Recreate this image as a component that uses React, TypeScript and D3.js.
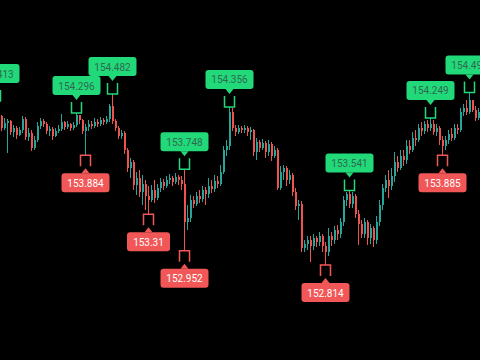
import React, { useMemo } from "react";
import * as d3 from "d3";

const WIDTH = 480;
const HEIGHT = 360;

// Opening price of the first bar; every later bar opens at the previous close.
const firstOpen = 154.306;

const closes = [
  154.326, 154.384, 154.267, 154.150, 154.199, 154.218, 154.111, 154.150, 154.082, 154.131,
  154.238, 154.062, 154.101, 153.955, 154.033, 154.170, 154.218, 154.189, 154.121, 154.140,
  154.072, 154.121, 154.140, 154.209, 154.160, 154.189, 154.150, 154.180, 154.277, 154.228,
  154.121, 154.160, 154.189, 154.170, 154.209, 154.189, 154.228, 154.209, 154.238, 154.365,
  154.218, 154.150, 154.072, 154.101, 153.936, 153.760, 153.819, 153.594, 153.662, 153.526,
  153.604, 153.487, 153.448, 153.545, 153.467, 153.565, 153.623, 153.584, 153.643, 153.662,
  153.623, 153.672, 153.643, 153.604, 153.233, 153.272, 153.448, 153.409, 153.487, 153.458,
  153.545, 153.506, 153.584, 153.555, 153.633, 153.604, 153.721, 153.936, 153.975, 154.306,
  154.150, 154.111, 154.150, 154.131, 154.150, 154.111, 154.131, 153.916, 154.014, 153.955,
  154.004, 153.916, 153.994, 153.877, 153.936, 153.565, 153.721, 153.760, 153.643, 153.692,
  153.526, 153.389, 153.409, 152.979, 153.018, 153.058, 152.999, 153.077, 153.038, 153.096,
  152.999, 152.940, 153.096, 153.058, 153.155, 153.116, 153.233, 153.448, 153.506, 153.409,
  153.487, 153.311, 153.214, 153.116, 153.233, 153.077, 153.174, 153.058, 153.233, 153.399,
  153.565, 153.643, 153.584, 153.682, 153.819, 153.760, 153.877, 153.838, 153.975, 153.936,
  154.053, 154.033, 154.150, 154.121, 154.189, 154.150, 154.189, 154.111, 154.150, 154.033,
  153.975, 154.033, 154.092, 154.053, 154.150, 154.131, 154.306, 154.345, 154.306, 154.423,
  154.326, 154.248, 154.306, 154.267,
];

const highs = [
  154.375, 154.413, 154.394, 154.277, 154.248, 154.238, 154.228, 154.180, 154.170, 154.160,
  154.267, 154.257, 154.150, 154.131, 154.072, 154.209, 154.248, 154.238, 154.209, 154.170,
  154.160, 154.150, 154.180, 154.287, 154.218, 154.218, 154.199, 154.209, 154.296, 154.282,
  154.238, 154.189, 154.228, 154.218, 154.248, 154.238, 154.257, 154.248, 154.267, 154.384,
  154.482, 154.238, 154.170, 154.131, 154.121, 153.955, 153.858, 153.838, 153.721, 153.741,
  153.692, 153.643, 153.584, 153.594, 153.643, 153.604, 153.662, 153.653, 153.682, 153.701,
  153.682, 153.711, 153.692, 153.682, 153.748, 153.399, 153.497, 153.487, 153.526, 153.545,
  153.584, 153.574, 153.662, 153.643, 153.692, 153.682, 153.789, 153.975, 154.033, 154.356,
  154.345, 154.180, 154.180, 154.170, 154.180, 154.170, 154.160, 154.140, 154.053, 154.033,
  154.043, 154.023, 154.033, 154.014, 153.975, 153.955, 153.780, 153.789, 153.780, 153.741,
  153.711, 153.565, 153.448, 153.438, 153.058, 153.096, 153.096, 153.116, 153.096, 153.135,
  153.116, 153.038, 153.174, 153.135, 153.194, 153.204, 153.272, 153.487, 153.530, 153.541,
  153.526, 153.506, 153.350, 153.253, 153.272, 153.253, 153.214, 153.194, 153.292, 153.448,
  153.604, 153.692, 153.741, 153.760, 153.916, 153.877, 153.936, 153.936, 154.033, 154.033,
  154.111, 154.131, 154.189, 154.209, 154.218, 154.228, 154.249, 154.228, 154.189, 154.170,
  154.072, 154.072, 154.131, 154.150, 154.189, 154.189, 154.345, 154.384, 154.423, 154.496,
  154.404, 154.365, 154.345, 154.326,
];

const lows = [
  154.277, 154.306, 154.248, 154.121, 154.131, 153.907, 154.082, 154.062, 154.043, 154.072,
  154.101, 154.033, 154.023, 153.926, 153.936, 154.014, 154.140, 154.160, 154.092, 154.072,
  154.033, 154.062, 154.101, 154.121, 154.131, 154.140, 154.121, 154.131, 154.160, 154.189,
  154.092, 153.884, 154.121, 154.140, 154.150, 154.160, 154.170, 154.180, 154.189, 154.209,
  154.189, 154.121, 154.043, 154.043, 153.897, 153.721, 153.662, 153.545, 153.497, 153.477,
  153.399, 153.350, 153.310, 153.428, 153.418, 153.448, 153.526, 153.545, 153.565, 153.604,
  153.584, 153.604, 153.594, 153.545, 152.952, 153.155, 153.233, 153.370, 153.389, 153.418,
  153.428, 153.399, 153.467, 153.516, 153.526, 153.565, 153.584, 153.701, 153.877, 153.936,
  154.121, 154.072, 154.092, 154.101, 154.101, 154.072, 154.033, 153.877, 153.838, 153.916,
  153.936, 153.858, 153.877, 153.828, 153.858, 153.545, 153.545, 153.643, 153.584, 153.604,
  153.487, 153.350, 153.253, 152.940, 152.940, 152.960, 152.843, 152.960, 152.989, 152.999,
  152.940, 152.814, 152.901, 152.999, 153.018, 153.058, 153.077, 153.194, 153.389, 153.370,
  153.370, 153.272, 153.009, 153.077, 153.077, 153.009, 153.018, 152.989, 153.018, 153.194,
  153.350, 153.526, 153.467, 153.545, 153.623, 153.721, 153.741, 153.780, 153.799, 153.897,
  153.916, 153.975, 154.014, 154.072, 154.092, 154.111, 154.121, 154.082, 154.072, 153.984,
  153.885, 153.936, 153.994, 154.023, 154.033, 154.092, 154.111, 154.267, 154.277, 154.287,
  154.306, 154.218, 154.228, 154.238,
];

// Bars whose swing high / swing low carries a price tag
const peakBars = [1, 28, 40, 64, 79, 119, 146, 159];
const troughBars = [31, 52, 64, 111, 150];

const UP = "#26a69a";
const DOWN = "#ef5350";
const TAG_UP = "#22d97a";
const TAG_UP_TEXT = "#2f6a4e";
const TAG_DOWN = "#f25757";
const TAG_DOWN_TEXT = "#ffffff";
const FONT_FAMILY = "Roboto, 'Noto Sans', sans-serif";
const FONT_SIZE = 10;

function measure(text: string): number {
  const canvas = document.createElement("canvas");
  const ctx = canvas.getContext("2d");
  if (!ctx) return text.length * 5.4;
  ctx.font = `${FONT_SIZE}px ${FONT_FAMILY}`;
  return ctx.measureText(text).width;
}

type Tag = { cx: number; py: number; text: string; up: boolean };

function PriceTag({ cx, py, text, up }: Tag) {
  const fill = up ? TAG_UP : TAG_DOWN;
  const w = Math.round(measure(text) + 12);
  const h = 19;
  const dir = up ? -1 : 1;
  const bracketTop = py + dir * 11;
  const tip = py + dir * 13;
  const base = py + dir * 18;
  const boxY = up ? base - h : base;
  return (
    <g>
      <path
        d={`M${cx - 5},${bracketTop} V${py} H${cx + 5} V${bracketTop}`}
        fill="none"
        stroke={fill}
        strokeWidth={1.5}
      />
      <path d={`M${cx - 4},${base} L${cx + 4},${base} L${cx},${tip} Z`} fill={fill} />
      <rect x={cx - w / 2} y={boxY} width={w} height={h} rx={3} fill={fill} />
      <text
        x={cx}
        y={boxY + h / 2 + 0.5}
        textAnchor="middle"
        dominantBaseline="central"
        fontFamily={FONT_FAMILY}
        fontSize={FONT_SIZE}
        fill={up ? TAG_UP_TEXT : TAG_DOWN_TEXT}
      >
        {text}
      </text>
    </g>
  );
}

export default function App() {
  const n = closes.length;
  const opens = useMemo(() => closes.map((c, i) => (i === 0 ? firstOpen : closes[i - 1])), []);

  const x = d3
    .scaleBand<number>()
    .domain(d3.range(n))
    .range([-9, -9 + 3 * n])
    .paddingInner(1 / 3)
    .paddingOuter(1 / 6);
  const y = d3.scaleLinear().domain([152.814, 154.482]).range([265, 94]);
  const bw = x.bandwidth();

  const tags: Tag[] = [
    ...peakBars.map((i) => ({
      cx: (x(i) as number) + bw / 2,
      py: y(highs[i]),
      text: String(highs[i]),
      up: true,
    })),
    ...troughBars.map((i) => ({
      cx: (x(i) as number) + bw / 2,
      py: y(lows[i]),
      text: String(lows[i]),
      up: false,
    })),
  ];

  return (
    <svg
      width={WIDTH}
      height={HEIGHT}
      style={{ position: "absolute", left: 0, top: 0, display: "block", background: "#000" }}
    >
      <rect width={WIDTH} height={HEIGHT} fill="#000" />
      <g shapeRendering="crispEdges">
        {closes.map((c, i) => {
          const o = opens[i];
          const color = c >= o ? UP : DOWN;
          const x0 = x(i) as number;
          const cx = x0 + bw / 2;
          const top = y(Math.max(o, c));
          const bottom = y(Math.min(o, c));
          return (
            <g key={i}>
              <line x1={cx} x2={cx} y1={y(highs[i])} y2={y(lows[i])} stroke={color} strokeWidth={1} />
              <rect x={x0} y={top} width={bw} height={Math.max(1, bottom - top)} fill={color} />
            </g>
          );
        })}
      </g>
      {tags.map((t, k) => (
        <PriceTag key={k} {...t} />
      ))}
    </svg>
  );
}
